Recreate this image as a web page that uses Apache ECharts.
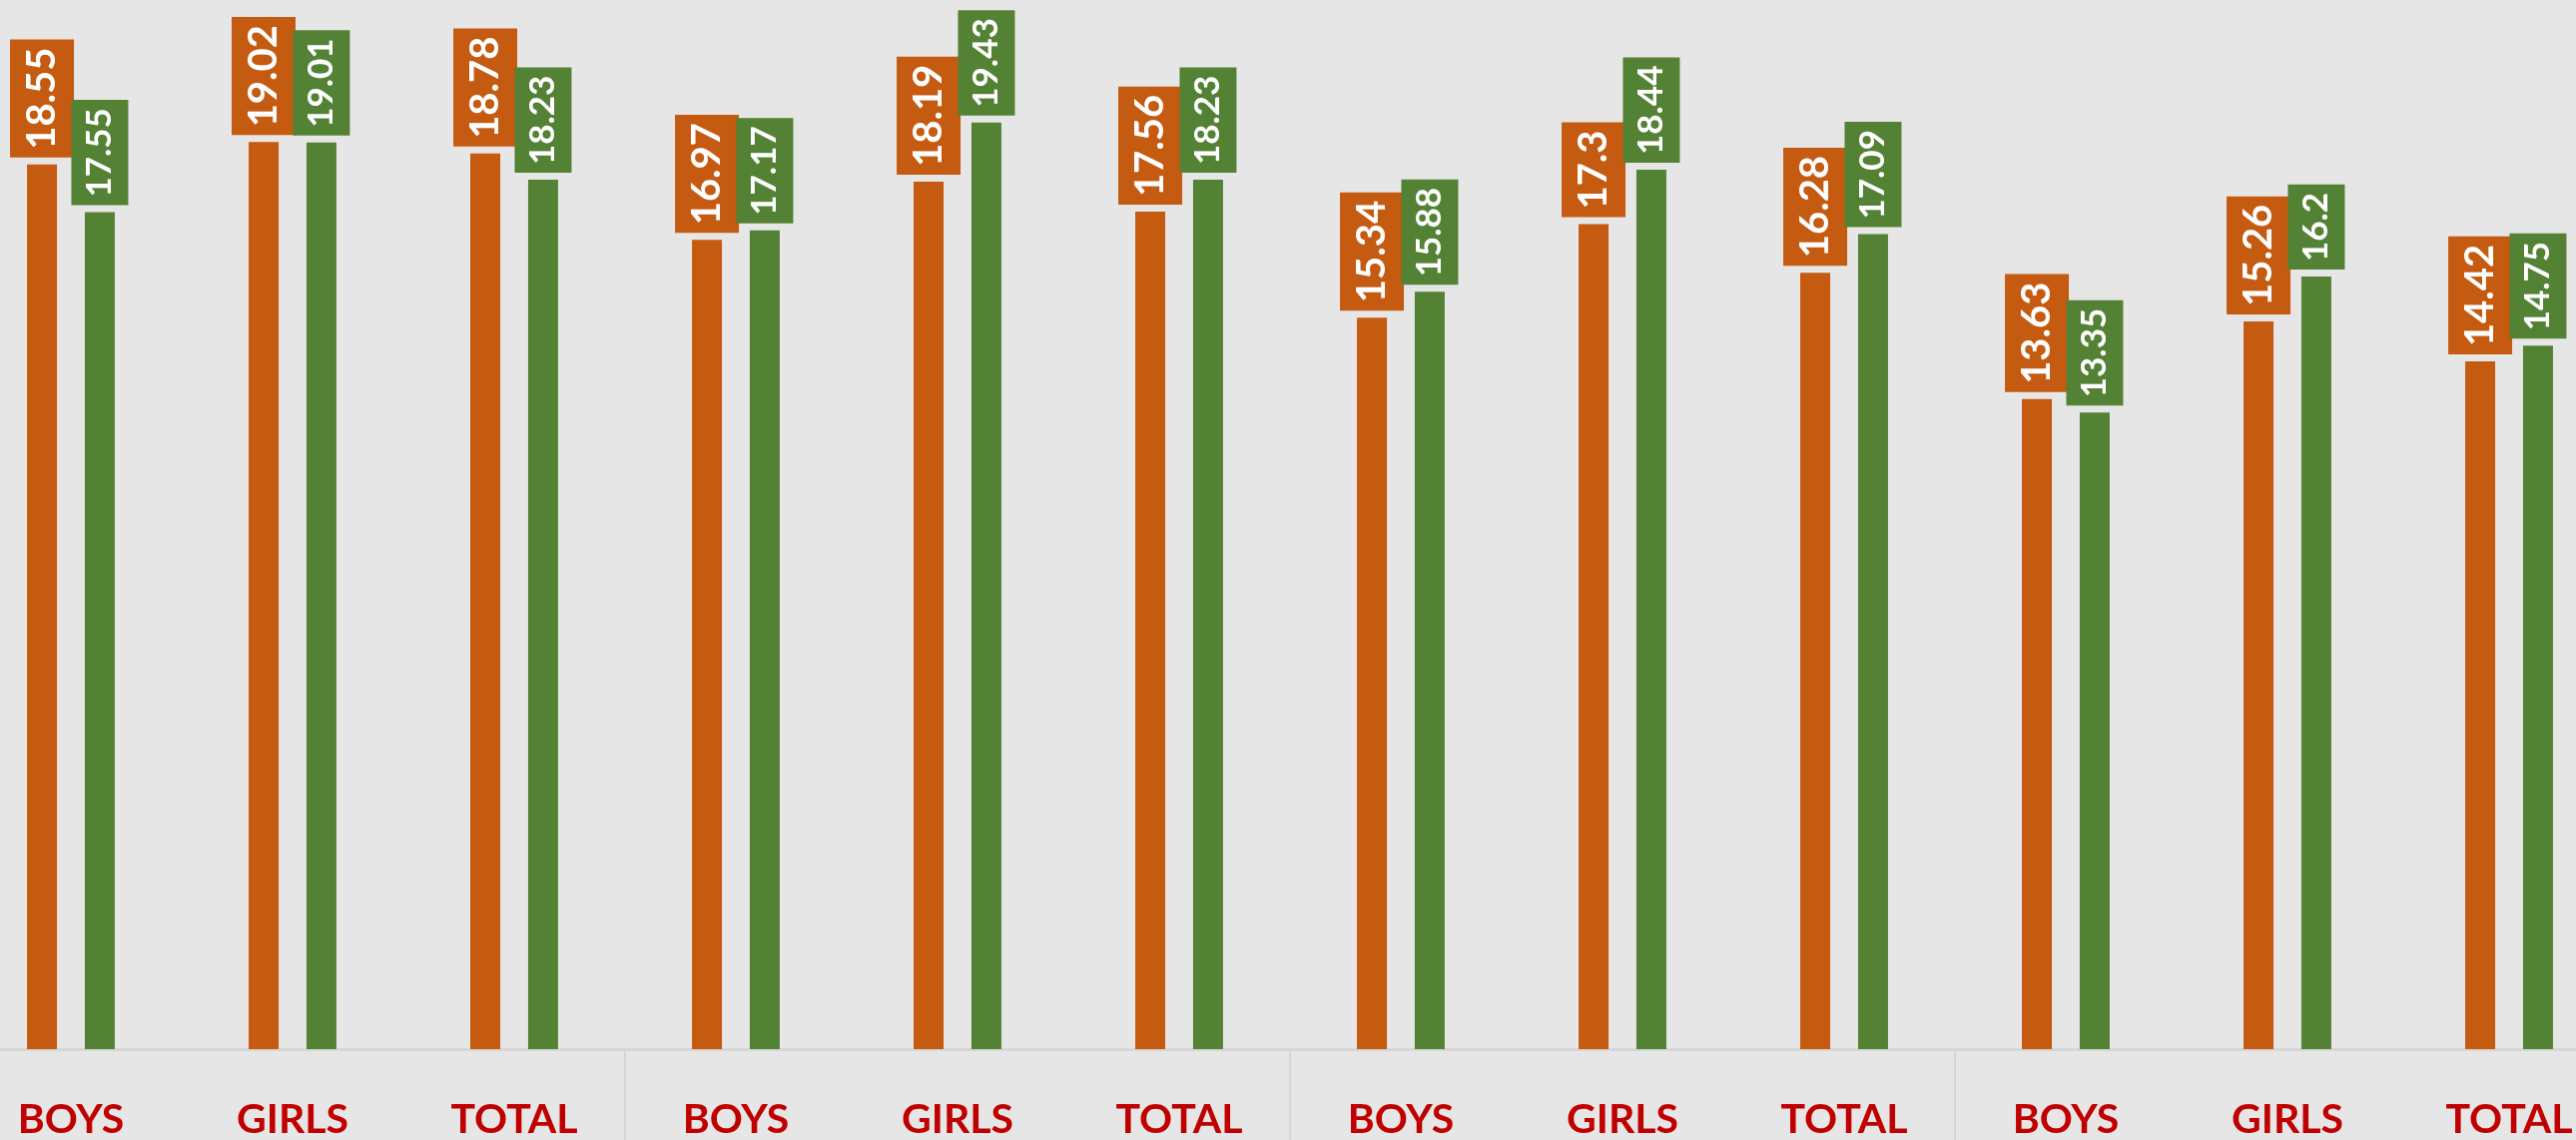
<!DOCTYPE html>
<html>
<head>
<meta charset="utf-8">
<script src="https://cdn.jsdelivr.net/npm/echarts@6/dist/echarts.min.js"></script>
<style>
  html, body { margin: 0; padding: 0; background: #E7E6E6; overflow: hidden; }
  /* plot runs a bit past both window edges, as in the original */
  #main { width: 2664px; height: 1142px; margin-left: -40px; }
</style>
</head>
<body>
<div id="main"></div>
<script>
// categories (three groups of boys / girls / total)
var categories = ['BOYS', 'GIRLS', 'TOTAL', 'BOYS', 'GIRLS', 'TOTAL',
                  'BOYS', 'GIRLS', 'TOTAL', 'BOYS', 'GIRLS', 'TOTAL'];
var orangeValues = [18.55, 19.02, 18.78, 16.97, 18.19, 17.56, 15.34, 17.3, 16.28, 13.63, 15.26, 14.42];
var greenValues  = [17.55, 19.01, 18.23, 17.17, 19.43, 18.23, 15.88, 18.44, 17.09, 13.35, 16.2, 14.75];

var chart = echarts.init(document.getElementById('main'));

function barLabel(bg, size, lh, pad) {
  return {
    show: true,
    position: 'top',
    distance: 7,
    rotate: 90,
    align: 'left',
    verticalAlign: 'middle',
    color: '#fff',
    fontFamily: 'Lato',
    fontWeight: 'bold',
    fontSize: size,
    lineHeight: lh,
    backgroundColor: bg,
    padding: pad
  };
}

var option = {
  backgroundColor: '#E7E6E6',
  animation: false,
  grid: { left: 0, right: 0, top: 0, bottom: 91 },
  xAxis: {
    type: 'category',
    data: categories,
    axisLine: { lineStyle: { color: '#D6D6D6', width: 3 } },
    axisTick: {
      show: true,
      length: 92,
      interval: function (i) { return i % 3 === 0; },
      lineStyle: { color: '#D6D6D6', width: 2 }
    },
    axisLabel: {
      color: '#C00000',
      fontFamily: 'Lato',
      fontWeight: 'bold',
      fontSize: 41,
      margin: 50,
      interval: 0
    }
  },
  yAxis: {
    type: 'value',
    min: 0,
    max: 22,
    show: false,
    splitLine: { show: false }
  },
  series: [
    {
      name: 'A',
      type: 'bar',
      data: orangeValues,
      barWidth: 30,
      barGap: '93%',
      itemStyle: { color: '#C55A11' },
      label: barLabel('#C55A11', 40, 42, [11, 8])
    },
    {
      name: 'B',
      type: 'bar',
      data: greenValues,
      barWidth: 30,
      itemStyle: { color: '#548235' },
      label: barLabel('#548235', 35, 37, [10, 8])
    }
  ]
};

chart.setOption(option);
</script>
</body>
</html>
